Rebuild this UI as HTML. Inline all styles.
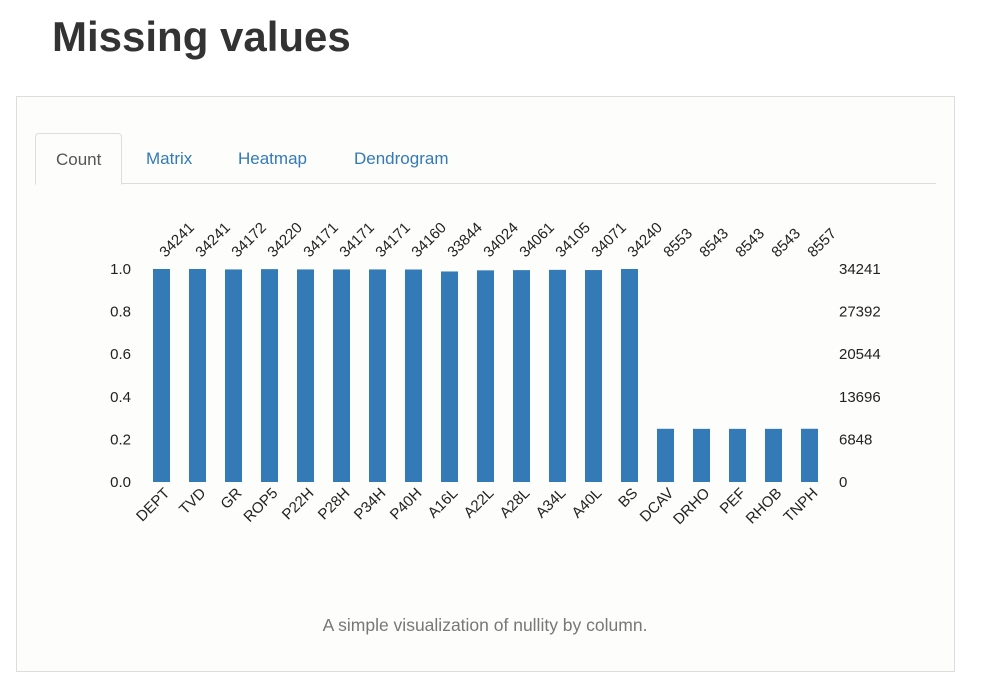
<!DOCTYPE html>
<html><head><meta charset="utf-8"><style>
body{margin:0;width:996px;height:692px;background:#fff;font-family:"Liberation Sans",Arial,sans-serif;position:relative;overflow:hidden}
#title{position:absolute;left:52px;top:13px;font-size:42px;font-weight:bold;color:#333;margin:0}
#panel{position:absolute;left:16px;top:96px;width:937px;height:574px;border:1px solid #ddd;background:#fdfdfc}
.tabline{position:absolute;left:18px;top:86px;width:901px;border-top:1px solid #ddd}
.tab{position:absolute;top:36px;height:50px;line-height:52px;font-size:17px;color:#337ab7}
.tab.active{color:#555;border:1px solid #ddd;border-bottom:1px solid #fdfdfc;border-radius:4px 4px 0 0;background:#fdfdfc;padding:0 20px;left:18px;z-index:1}
#caption{position:absolute;left:0;width:936px;top:518px;text-align:center;color:#777;font-size:17.5px}
svg{position:absolute;left:0;top:0}
</style></head><body>
<h1 id="title">Missing values</h1>
<div id="panel">
<div class="tab active">Count</div>
<div class="tab" style="left:129px">Matrix</div>
<div class="tab" style="left:221px">Heatmap</div>
<div class="tab" style="left:337px">Dendrogram</div>
<div class="tabline"></div>
<div id="caption">A simple visualization of nullity by column.</div>
</div>
<svg id="chart" width="996" height="692"></svg>
<script>
const categories=["DEPT","TVD","GR","ROP5","P22H","P28H","P34H","P40H","A16L","A22L","A28L","A34L","A40L","BS","DCAV","DRHO","PEF","RHOB","TNPH"];
const counts=[34241,34241,34172,34220,34171,34171,34171,34160,33844,34024,34061,34105,34071,34240,8553,8543,8543,8543,8557];
const totalRows=34241;
const leftTicks=[0,0.2,0.4,0.6,0.8,1.0];
const rightTickLabels=["0","6848","13696","20544","27392","34241"];
const svg=document.getElementById('chart');
const NS="http://www.w3.org/2000/svg";
const y0=482,y1=269;
function yScale(f){return y0-(y0-y1)*f;}
function xCenter(i){return 161.5+36*i;}
function mk(tag,attrs,txt){const e=document.createElementNS(NS,tag);for(const k in attrs)e.setAttribute(k,attrs[k]);if(txt!==undefined)e.textContent=txt;svg.appendChild(e);return e;}
leftTicks.forEach((t,i)=>{
 const e=mk('text',{x:131,y:yScale(t)+5,'text-anchor':'end','font-size':15,fill:'#222'},t.toFixed(1));
 
 
 const r=mk('text',{x:839,y:yScale(t)+5,'text-anchor':'start','font-size':15,fill:'#222'},rightTickLabels[i]);
 
 
});
categories.forEach((c,i)=>{
 const f=counts[i]/totalRows;
 const cx=xCenter(i);
 const b=mk('rect',{x:cx-8.5,y:yScale(f),width:17,height:y0-yScale(f),fill:'#337ab7'});
 
 
 const t=mk('text',{transform:`translate(${cx+4},${258}) rotate(-45)`,'font-size':15,fill:'#222'},String(counts[i]));
 
 
 const l=mk('text',{transform:`translate(${cx+9},${494}) rotate(-45)`,'text-anchor':'end','font-size':15,fill:'#222'},c);
 
 
});
</script>
</body></html>
